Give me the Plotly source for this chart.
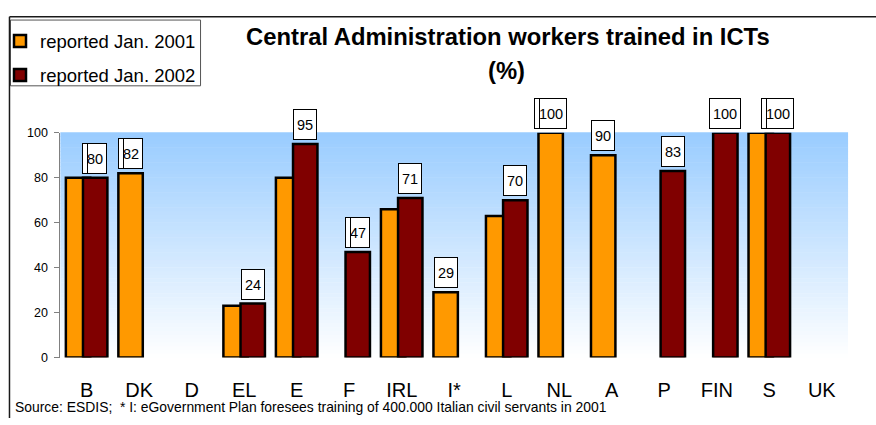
import plotly.graph_objects as go

# ---------------- data ----------------
categories = ["B", "DK", "D", "EL", "E", "F", "IRL", "I*", "L", "NL", "A", "P", "FIN", "S", "UK"]
jan2001 = [80, 82, None, 23, 80, None, 66, 29, 63, 100, 90, None, None, 100, None]
jan2002 = [80, None, None, 24, 95, 47, 71, None, 70, None, None, 83, 100, 100, None]
y_ticks = [0, 20, 40, 60, 80, 100]
series_names = ["reported Jan. 2001", "reported Jan. 2002"]
title_text = "Central Administration workers trained in ICTs"
subtitle_text = "(%)"
source_text = "Source: ESDIS;  * I: eGovernment Plan foresees training of 400.000 Italian civil servants in 2001"
strip_cats = ["B", "DK", "F", "NL", "S"]  # label-box artefacts seen in the original

# ---------------- layout helpers ----------------
W, H = 876, 425
FONT = "Liberation Sans, Arial, sans-serif"


def px(x):
    return x / W


def py(y):
    return 1 - y / H


PLOT_L, PLOT_R, PLOT_T, PLOT_B = 58.5, 848, 130, 362.5
SLOT = (PLOT_R - PLOT_L) / len(categories)
BAR_W = 0.465
SHIFT = 0.163
ORANGE = "#FF9900"
DARKRED = "#800000"

fig = go.Figure()
fig.add_bar(
    x=categories, y=jan2001, name=series_names[0], legendgroup="a",
    width=BAR_W, offset=-SHIFT - BAR_W / 2,
    marker=dict(color=ORANGE, line=dict(color="#000000", width=2.5)),
)
fig.add_bar(
    x=categories, y=jan2002, name=series_names[1], legendgroup="b",
    width=BAR_W, offset=SHIFT - BAR_W / 2,
    marker=dict(color=DARKRED, line=dict(color="#000000", width=2.5)),
)

shapes = []
# gradient plot background (light blue at top -> white at bottom)
N = 60
top_rgb = (153, 204, 255)
for k in range(N):
    t = (k + 0.5) / N
    r = round(255 + (top_rgb[0] - 255) * t)
    g = round(255 + (top_rgb[1] - 255) * t)
    b = round(255 + (top_rgb[2] - 255) * t)
    shapes.append(dict(
        type="rect", xref="x domain", yref="y domain", layer="below",
        x0=0, x1=1, y0=k / N, y1=(k + 1) / N + 0.002,
        fillcolor=f"rgb({r},{g},{b})", line=dict(width=0),
    ))
# outer frame (top and left edges)
shapes.append(dict(type="line", xref="paper", yref="paper",
                   x0=px(7.5), x1=px(876), y0=py(10), y1=py(10),
                   line=dict(color="#1a1a1a", width=1.5)))
shapes.append(dict(type="line", xref="paper", yref="paper",
                   x0=px(7.5), x1=px(7.5), y0=py(10), y1=py(425),
                   line=dict(color="#1a1a1a", width=1.5)))
# legend box
shapes.append(dict(type="rect", xref="paper", yref="paper",
                   x0=px(8.5), x1=px(199), y0=py(13.5), y1=py(81.5),
                   fillcolor="white", line=dict(color="#555555", width=1), layer="below"))

annotations = []
# value labels in boxes
for i, cat in enumerate(categories):
    if jan2002[i] is not None:
        v, sh = jan2002[i], SHIFT
    elif jan2001[i] is not None:
        v, sh = jan2001[i], -SHIFT
    else:
        continue
    txt = str(v)
    bw = 22 if len(txt) < 3 else 30
    xs = sh * SLOT
    annotations.append(dict(
        x=cat, y=v, xref="x", yref="y", text=txt, showarrow=False,
        xanchor="center", yanchor="bottom", xshift=xs, yshift=4,
        width=bw, height=29, borderpad=0, borderwidth=1,
        bgcolor="white", bordercolor="#000000",
        font=dict(family=FONT, size=14.5, color="black"),
    ))
    if cat in strip_cats:
        annotations.append(dict(
            x=cat, y=v, xref="x", yref="y", text="\u00a0", showarrow=False,
            xanchor="left", yanchor="bottom", xshift=xs - bw / 2 - 2, yshift=4,
            width=4, height=29, borderpad=0, borderwidth=1,
            bgcolor="white", bordercolor="#000000",
            font=dict(family=FONT, size=6, color="black"),
        ))

# title lines
annotations.append(dict(
    x=px(507.5), y=py(31), xref="paper", yref="paper", text=title_text,
    showarrow=False, xanchor="center", yanchor="middle",
    font=dict(family=FONT, size=23.8, color="black", weight="bold"),
))
annotations.append(dict(
    x=px(506), y=py(66), xref="paper", yref="paper", text=subtitle_text,
    showarrow=False, xanchor="center", yanchor="middle",
    font=dict(family=FONT, size=23.8, color="black", weight="bold"),
))
# source note
annotations.append(dict(
    x=px(11), y=py(414), xref="paper", yref="paper", text=source_text,
    showarrow=False, xanchor="left", yanchor="middle",
    font=dict(family=FONT, size=13.9, color="black"),
))

fig.update_layout(
    width=W, height=H,
    margin=dict(l=0, r=0, t=0, b=0),
    paper_bgcolor="white", plot_bgcolor="white",
    barmode="overlay",
    hovermode=False,
    font=dict(family=FONT, color="black"),
    showlegend=True,
    legend=dict(
        x=px(-2), y=py(16), xanchor="left", yanchor="top",
        bgcolor="rgba(0,0,0,0)", borderwidth=0,
        traceorder="grouped", tracegroupgap=7,
        font=dict(family=FONT, size=18.5, color="black"),
    ),
    xaxis=dict(
        domain=[px(PLOT_L), px(PLOT_R)], type="category",
        categoryorder="array", categoryarray=categories,
        range=[-0.5, len(categories) - 0.5],
        showline=False, showgrid=False, zeroline=False, ticks="",
        tickfont=dict(family=FONT, size=20, color="black"),
        ticklabelstandoff=18,
    ),
    yaxis=dict(
        domain=[py(PLOT_B), py(PLOT_T)], range=[0, 100],
        tickvals=y_ticks, ticks="outside", ticklen=5, tickcolor="#808080",
        showline=True, linecolor="#808080", linewidth=1,
        showgrid=False, zeroline=False,
        tickfont=dict(family=FONT, size=12.5, color="black"),
        ticklabelstandoff=4,
    ),
    shapes=shapes,
    annotations=annotations,
)

# place the figure at the window's top-left corner (no default body margin)
fig.write_html(
    "out.html",
    config={"displayModeBar": False},
    post_script="document.body.style.margin='0';",
)
